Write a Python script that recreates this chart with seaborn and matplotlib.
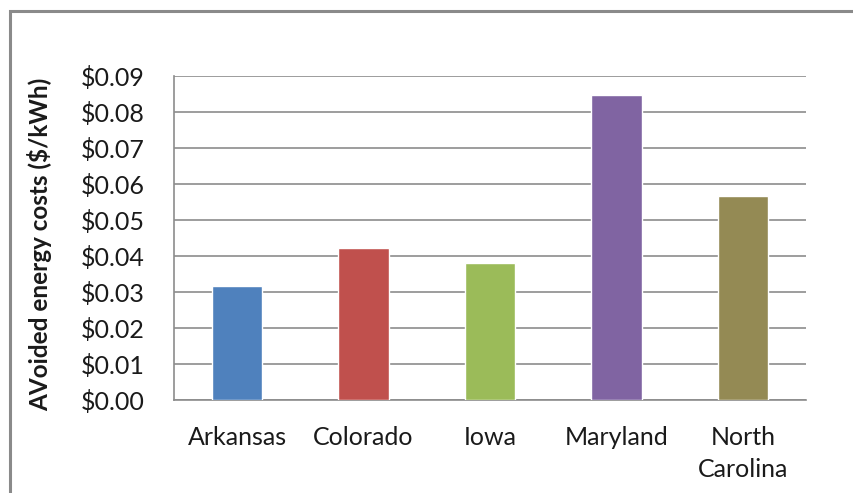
import matplotlib
matplotlib.use("Agg")
import matplotlib.pyplot as plt
from matplotlib.patches import Rectangle
from matplotlib.ticker import FuncFormatter, FixedLocator, NullFormatter
import seaborn as sns
import pandas as pd

states = ["Arkansas", "Colorado", "Iowa", "Maryland", "North\nCarolina"]
avoided_cost = [0.0317, 0.0421, 0.0380, 0.0847, 0.0566]
colors = ["#4F81BD", "#C0504D", "#9BBB59", "#8064A2", "#948A54"]

df = pd.DataFrame({"state": states, "cost": avoided_cost})

sns.set_style("white")
plt.rcParams["font.family"] = ["Lato", "DejaVu Sans"]

W, H = 854, 493
fig = plt.figure(figsize=(W / 100, H / 100), dpi=100)
ax = fig.add_axes([174 / W, (H - 400) / H, (806 - 174) / W, (400 - 76) / H])

sns.barplot(data=df, x="state", y="cost", hue="state", palette=colors,
            width=0.4, saturation=1, legend=False, ax=ax, zorder=3)

grid_c = "#8c8c8c"
text_c = "#1a1a1a"
fs = 18
ax.set_ylim(0, 0.09)
ax.set_xlim(-0.5, len(states) - 0.5)
ax.set_yticks([i / 100 for i in range(10)])
ax.yaxis.set_major_formatter(FuncFormatter(lambda v, _: f"${v:.2f}"))
ax.grid(axis="y", color=grid_c, linewidth=1.2, zorder=0)
ax.set_axisbelow(True)

# category separators on the x axis
ax.xaxis.set_minor_locator(FixedLocator([i - 0.5 for i in range(len(states) + 1)]))
ax.xaxis.set_minor_formatter(NullFormatter())
ax.tick_params(axis="x", which="major", length=0, labelsize=fs, pad=19,
               labelcolor=text_c)
ax.tick_params(axis="x", which="minor", length=8, width=1.2, color=grid_c, direction="out")
ax.tick_params(axis="y", length=9, width=1.2, color=grid_c, direction="out",
               labelsize=fs, pad=12, labelcolor=text_c)
for lbl in ax.get_xticklabels():
    lbl.set_linespacing(1.45)
    lbl.set_verticalalignment("top")

for side in ("top", "right"):
    ax.spines[side].set_visible(False)
for side in ("left", "bottom"):
    ax.spines[side].set_color(grid_c)
    ax.spines[side].set_linewidth(1.2)

ax.set_xlabel("")
ax.set_ylabel("AVoided energy costs ($/kWh)", fontsize=17.5, fontweight="bold",
              color=text_c)
ax.yaxis.set_label_coords((52 - 174) / (806 - 174), 0.5 - 6 / 324)

# chart-area frame (left and top edges visible)
fig.patches.append(Rectangle((10 / W, -0.2), 1.2, (H - 11) / H + 0.2,
                             transform=fig.transFigure, fill=False,
                             edgecolor="#8a8a8a", linewidth=2.2))

fig.savefig("out.png", dpi=100)
